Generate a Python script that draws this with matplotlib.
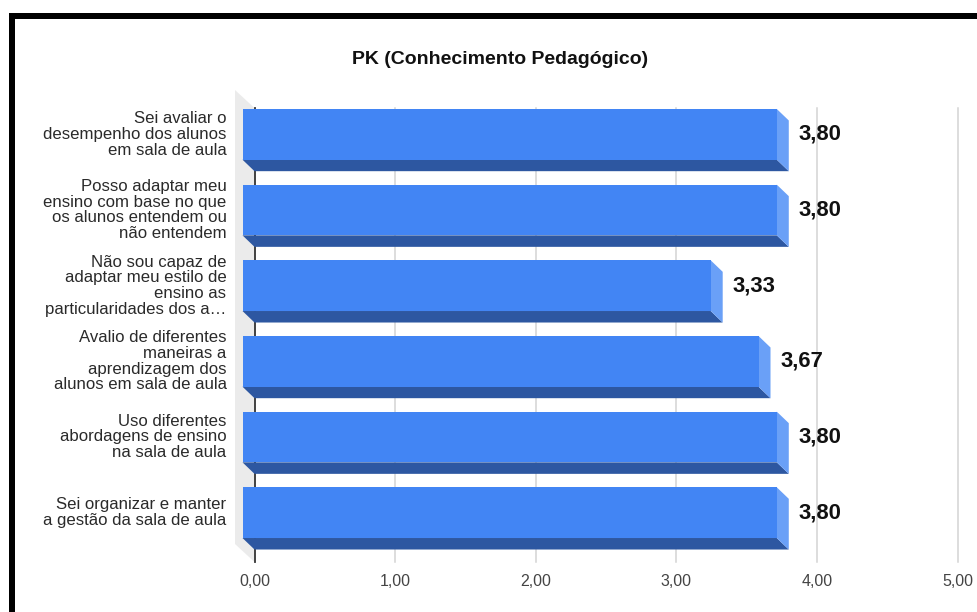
import matplotlib
matplotlib.use("Agg")
import matplotlib.pyplot as plt
from matplotlib.patches import Polygon, Rectangle

# --- data -------------------------------------------------------------
title = "PK (Conhecimento Pedagógico)"
categories = [
    "Sei avaliar o\ndesempenho dos alunos\nem sala de aula",
    "Posso adaptar meu\nensino com base no que\nos alunos entendem ou\nnão entendem",
    "Não sou capaz de\nadaptar meu estilo de\nensino as\nparticularidades dos a…",
    "Avalio de diferentes\nmaneiras a\naprendizagem dos\nalunos em sala de aula",
    "Uso diferentes\nabordagens de ensino\nna sala de aula",
    "Sei organizar e manter\na gestão da sala de aula",
]
values = [3.80, 3.80, 3.33, 3.67, 3.80, 3.80]
x_ticks = [0, 1, 2, 3, 4, 5]
x_tick_labels = ["0,00", "1,00", "2,00", "3,00", "4,00", "5,00"]

# --- styling ----------------------------------------------------------
W, H, DPI = 977, 612, 100
FONT = "Liberation Sans"
PT = 72.0 / DPI  # points per pixel

FRONT = "#4285f4"
SIDE = "#6aa0f7"
BOTTOM = "#2d57a1"
WALL = "#ebebeb"
GRID = "#d3d3d3"

fig = plt.figure(figsize=(W / DPI, H / DPI), dpi=DPI)
fig.patch.set_facecolor("white")

# black frame along the top and left edges
fig.add_artist(Rectangle((9 / W, 1 - 19 / H), 1 - 9 / W, 6 / H,
                         transform=fig.transFigure, color="black", lw=0))
fig.add_artist(Rectangle((9 / W, 0), 5.5 / W, 1 - 13 / H,
                         transform=fig.transFigure, color="black", lw=0))

# plotting area = back plane of the 3D chart
ax_left, ax_right, ax_top, ax_bottom = 254.5, 957.5, 108, 562
ax = fig.add_axes([ax_left / W, 1 - ax_bottom / H,
                   (ax_right - ax_left) / W, (ax_bottom - ax_top) / H])
n = len(categories)
ax.set_xlim(x_ticks[0], x_ticks[-1])
ax.set_ylim(n - 0.5, -0.5)
for s in ax.spines.values():
    s.set_visible(False)
ax.set_yticks([])
ax.set_xticks(x_ticks, x_tick_labels)
ax.tick_params(axis="x", length=0, pad=9, labelsize=16 * PT,
               labelcolor="#444444")
for t in ax.get_xticklabels():
    t.set_fontfamily(FONT)

# pixel -> data conversion for the depth offsets
px_x = (ax_right - ax_left) / (x_ticks[-1] - x_ticks[0])
px_y = (ax_bottom - ax_top) / n


def dx(px):
    return px / px_x


def dy(px):
    # positive px = upwards on screen (y axis is inverted)
    return -px / px_y


# left wall
wx, wy = dx(-19.5), dy(18)
ax.add_patch(Polygon([(0, -0.5), (0, n - 0.5), (wx, n - 0.5 + wy), (wx, -0.5 + wy)],
                     closed=True, facecolor=WALL, edgecolor="none",
                     clip_on=False, zorder=1))

# gridlines and zero line
for xt in x_ticks[1:]:
    ax.plot([xt, xt], [-0.5, n - 0.5], color=GRID, lw=1.1, zorder=2,
            clip_on=False)
ax.plot([0, 0], [-0.5, n - 0.5], color="#333333", lw=1.3, zorder=2.5,
        clip_on=False)

# 3D bars
bh = 0.67
fx, fy = dx(-12), dy(11.5)
for i, v in enumerate(values):
    top, bot = i - bh / 2, i + bh / 2
    # bottom face
    ax.add_patch(Polygon([(fx, bot + fy), (v + fx, bot + fy), (v, bot), (0, bot)],
                         closed=True, facecolor=BOTTOM, edgecolor="none",
                         clip_on=False, zorder=3))
    # side face
    ax.add_patch(Polygon([(v + fx, top + fy), (v, top), (v, bot), (v + fx, bot + fy)],
                         closed=True, facecolor=SIDE, edgecolor="none",
                         clip_on=False, zorder=3))
    # front face
    ax.add_patch(Rectangle((fx, top + fy), v, bh, facecolor=FRONT,
                           edgecolor="none", clip_on=False, zorder=4))
    # value label
    ax.text(v + dx(10), i + fy, f"{v:.2f}".replace(".", ","),
            ha="left", va="center", fontsize=22 * PT, fontweight="bold",
            family=FONT, color="#111111", zorder=5, clip_on=False)
    # category label
    ax.text(dx(-28), i + fy, categories[i], ha="right", va="center",
            fontsize=16.7 * PT, family=FONT, color="#2a2a2a",
            linespacing=1.06, clip_on=False, zorder=5)

fig.text(500 / W, 1 - 60 / H, title, ha="center", va="center",
         fontsize=19.5 * PT, fontweight="bold", family=FONT, color="#111111")

fig.savefig("out.png", dpi=DPI)
